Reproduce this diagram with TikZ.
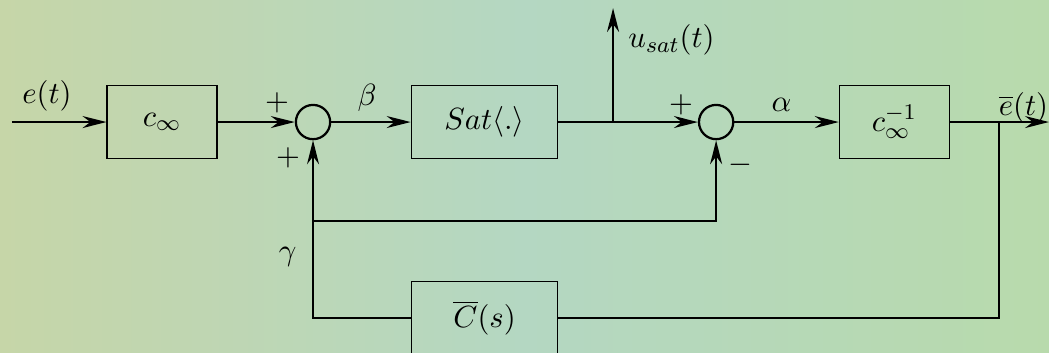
\documentclass[tikz,border=0pt]{standalone}
\usepackage{amsmath}
\usepackage{amssymb}
\usetikzlibrary{arrows.meta, positioning, calc}

\definecolor{bgleft}{RGB}{198,214,168}
\definecolor{bgmid}{RGB}{180,215,194}
\definecolor{bgright}{RGB}{184,218,172}

\begin{document}
\begin{tikzpicture}[
    >={Stealth[length=3mm, width=1.5mm]},
    every node/.style={font=\fontsize{10.8}{13}\selectfont},
    block/.style={draw, thin, minimum width=13.8mm, minimum height=9.2mm, inner sep=2pt},
    wblock/.style={draw, thin, minimum width=18.4mm, minimum height=9.2mm, inner sep=2pt},
    sumnode/.style={draw, thick, circle, minimum size=4.3mm, inner sep=0pt},
    sgn/.style={inner sep=1pt},
    main/.style={->, thick},
    wire/.style={thick}
]

% background
\useasboundingbox (0,0) rectangle (13.16,4.417);
\shade[left color=bgleft, right color=bgright, middle color=bgmid] (0,0) rectangle (13.16,4.417);

\node[block] (cinf) at (2.033,2.886) {$c_\infty$};
\node[sumnode] (sum1) at (3.927,2.886) {};
\node[wblock] (sat) at (6.079,2.886) {$Sat\langle . \rangle$};
\node[sumnode] (sum2) at (8.984,2.886) {};
\node[block] (cinv) at (11.22,2.886) {$c_\infty^{-1}$};
\node[wblock] (cbar) at (6.079,0.427) {$\overline{C}(s)$};

\coordinate (in) at (0.15,2.886);
\coordinate (ubr) at (7.691,2.886);
\coordinate (usat) at (7.691,4.316);
\coordinate (out) at (13.16,2.886);
\coordinate (ebr) at (12.534,2.886);
\coordinate (gj) at (3.927,1.644);

\draw[main] (in) -- node[above, pos=0.37] {$e(t)$} (cinf.west);
\draw[main] (cinf.east) -- (sum1.west);
\draw[main] (sum1.east) -- node[above, pos=0.45] {$\beta$} (sat.west);
\draw[main] (sat.east) -- (sum2.west);
\draw[main] (ubr) -- (usat);
\node[anchor=west] (ulab) at (7.76,3.915) {$u_{sat}(t)$};
\draw[main] (sum2.east) -- node[above, pos=0.45] {$\alpha$} (cinv.west);
\draw[main] (cinv.east) -- (out);
\node (elab) at (12.84,3.07) {$\overline{e}(t)$};

% feedback
\draw[wire] (ebr) |- (cbar.east);
\draw[main] (cbar.west) -| (sum1.south);
\draw[main] (gj) -| (sum2.south);
\node (glab) at (3.61,1.19) {$\gamma$};

\node[sgn] at (3.476,3.122) {$+$};
\node[sgn] at (3.614,2.434) {$+$};
\node[sgn] at (8.545,3.099) {$+$};
\node[sgn] at (9.285,2.346) {$-$};

\end{tikzpicture}
\end{document}
